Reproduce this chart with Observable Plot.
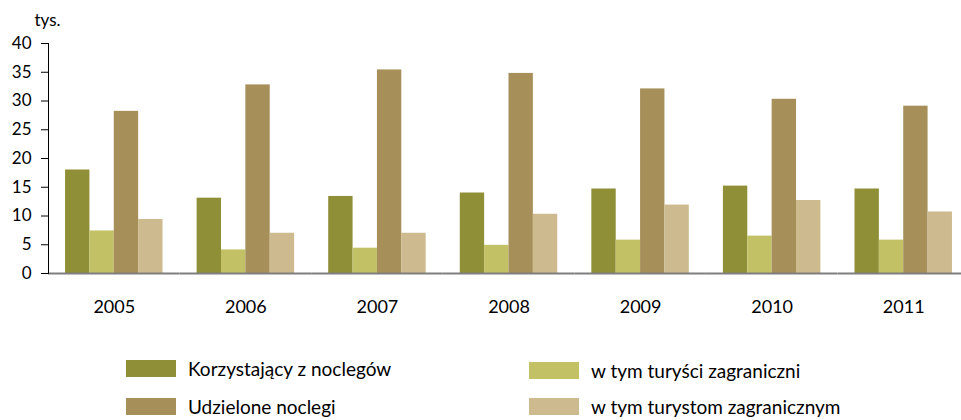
<!DOCTYPE html>
<html><head><meta charset="utf-8">
<script src="https://cdn.jsdelivr.net/npm/d3@7"></script>
<script src="https://cdn.jsdelivr.net/npm/@observablehq/plot@0.6"></script>
<style>
body{margin:0;background:#fff;overflow:hidden;font-family:Lato,sans-serif;}
#wrap{position:relative;width:961px;height:410px;padding-top:10px;overflow:hidden;}
#wrap svg{display:block;}
.leg{position:absolute;display:flex;align-items:center;font-size:19px;color:#000;white-space:nowrap;line-height:19px;}
.sw{width:50px;height:17px;margin-right:12px;flex:none;}
</style></head><body><div id="wrap"></div>
<script>
const years = ["2005","2006","2007","2008","2009","2010","2011"];
const series = ["Korzystający z noclegów","w tym turyści zagraniczni","Udzielone noclegi","w tym turystom zagranicznym"];
const korzystajacy = [18.0,13.1,13.4,14.0,14.7,15.2,14.7];
const turysci = [7.4,4.1,4.4,4.9,5.8,6.5,5.8];
const udzielone = [28.2,32.8,35.4,34.8,32.1,30.3,29.1];
const turystom = [9.4,7.0,7.0,10.3,11.9,12.7,10.7];
const colors = ["#8f8f37","#c2c166","#a68f59","#cdbb8f"];
const yTicks = [0,5,10,15,20,25,30,35,40];

const seriesValues = [korzystajacy, turysci, udzielone, turystom];
const data = years.flatMap((y,i)=>series.map((s,j)=>({year:y, series:s, value:seriesValues[j][i]})));

const chart = Plot.plot({
  width: 961, height: 340,
  marginLeft: 48, marginRight: -8, marginTop: 33, marginBottom: 77,
  style: {fontFamily: "Lato, sans-serif", fontSize: "17px", color: "#000", background: "transparent"},
  fx: {domain: years, paddingInner: 0, paddingOuter: 0, round: false},
  x: {domain: series, paddingInner: 0, paddingOuter: 0.7, round: false},
  y: {domain: [0,40]},
  color: {domain: series, range: colors},
  marks: [
    Plot.barY(data, {fx: "year", x: "series", y: "value", fill: "series"}),
    Plot.axisX({ticks: [], label: null}),
    Plot.axisFx({anchor: "bottom", tickSize: 0, tickPadding: 27, label: null, fontSize: 18}),
    Plot.axisY({ticks: yTicks, tickSize: 7, tickPadding: 10, fontSize: 17, label: "tys.", labelAnchor: "top", labelArrow: "none", labelOffset: 14}),
    Plot.ruleY([0], {stroke: "#7f7f7f", strokeWidth: 2}),
    Plot.frame({anchor: "left", facetAnchor: "left", stroke: "#000"})
  ]
});
const wrap = document.getElementById("wrap");
wrap.appendChild(chart);

const legendItems = [
  {i:0, left:126, top:359},
  {i:2, left:126, top:397},
  {i:1, left:529, top:361},
  {i:3, left:529, top:397}
];
legendItems.forEach(({i,left,top})=>{
  const d = document.createElement("div");
  d.className = "leg";
  d.style.left = left + "px";
  d.style.top = top + "px";
  d.innerHTML = `<span class="sw" style="background:${colors[i]}"></span><span>${series[i]}</span>`;
  wrap.appendChild(d);
});
</script></body></html>
